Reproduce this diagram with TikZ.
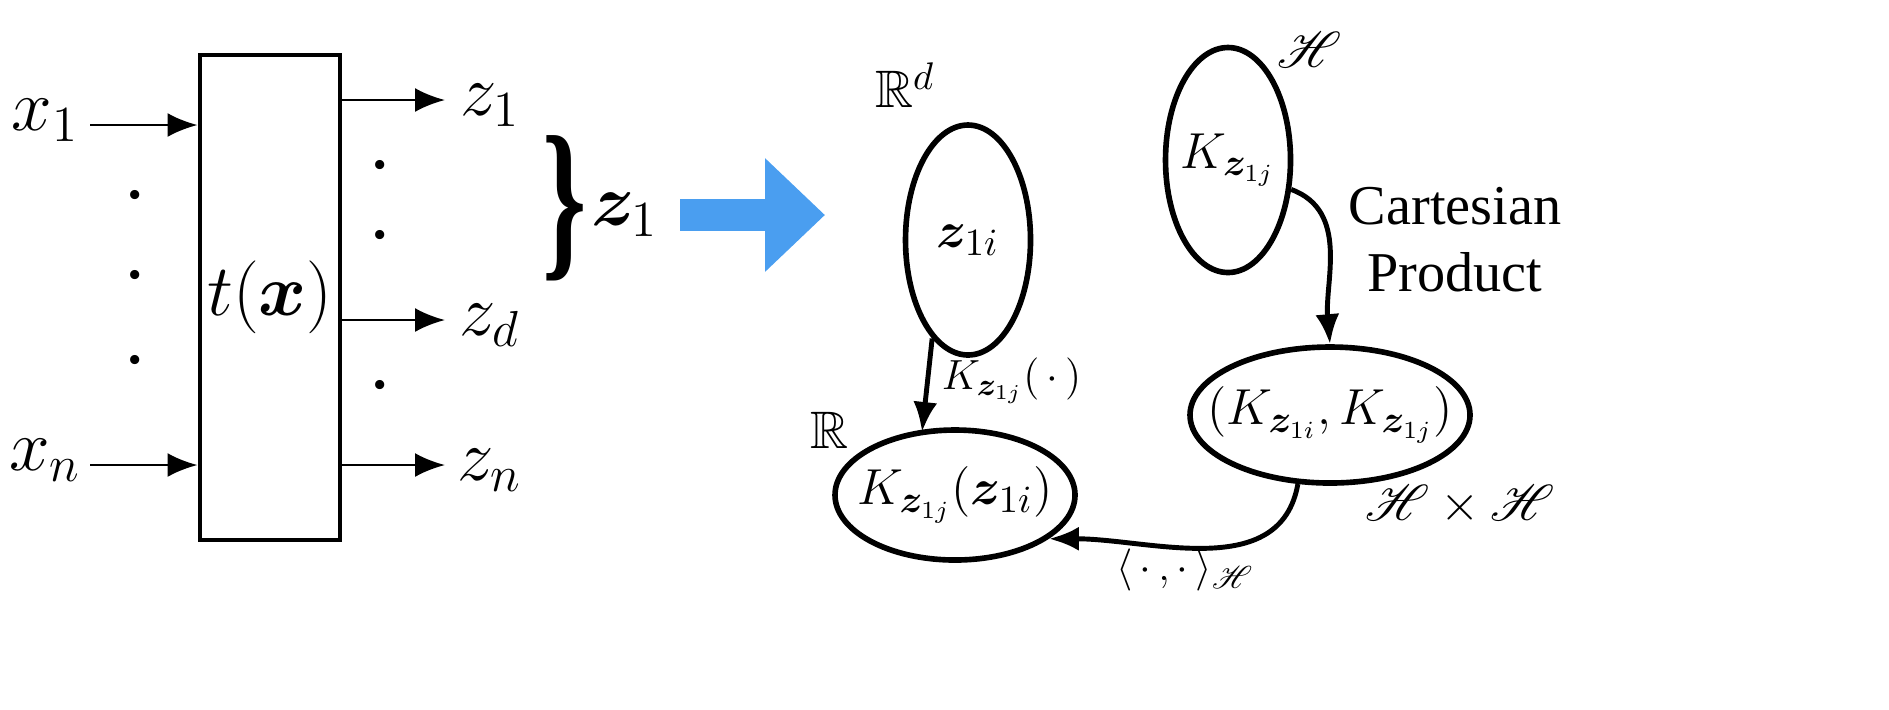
\documentclass[tikz,border=0pt]{standalone}
\usepackage{amsmath,amssymb,bm,mathrsfs}
\usepackage{fontspec}
\setmainfont{Liberation Serif}
\usetikzlibrary{arrows.meta}
\usetikzlibrary{shapes.geometric}
\tikzset{arrow/.style={thick,-{Latex[length=3mm,width=2.4mm]}},
  oval/.style={ellipse,draw,line width=1.6pt,inner sep=0pt},
  big/.style={font=\fontsize{21}{25}\selectfont},
  mid/.style={font=\fontsize{15}{18}\selectfont},
  dot/.style={font=\fontsize{22}{26}\selectfont}}
\begin{document}
\begin{tikzpicture}[x=1cm,y=-1cm]
    \useasboundingbox (0,0) rectangle (18.89,7.09);
    \node [draw,line width=1.4pt,minimum width=1.4cm,minimum height=4.85cm] (box) at (2.7,2.975) {};
    \node [big] at (box) {$t(\bm{x})$};

    \node [big] (x1) at (0.45,1.2) {$x_1$};
    \node [big] (xn) at (0.45,4.6) {$x_n$};
    \coordinate (x1e) at (0.9,1.25);
    \coordinate (xne) at (0.9,4.65);
    \draw [arrow] (x1e) -- (x1e -| box.west);
    \draw [arrow] (xne) -- (xne -| box.west);
    \foreach \y in {1.95,2.75,3.6}
        \node [dot] at (1.35,\y) {.};

    \node [big] (z1) at (4.9,1.05) {$z_1$};
    \node [big] (zd) at (4.9,3.25) {$z_d$};
    \node [big] (zn) at (4.9,4.7) {$z_n$};
    \foreach \n/\y in {z1/1.0,zd/3.2,zn/4.65}
        {
        \coordinate (\n s) at (3.4,\y);
        \draw [arrow] (\n s) -- ++(1.05,0);
        }
    \foreach \y in {1.65,2.35,3.85}
        \node [dot] at (3.8,\y) {.};

    \node [inner sep=0pt] (brace) at (5.65,2.08) {\scalebox{0.8}[1.25]{\fontsize{40}{40}\selectfont\bfseries\}}};
    \node [big] (zall) at (6.25,2.15) {$\bm{z}_1$};
    \coordinate (ba) at (6.8,2.15);
    \coordinate (bb) at (8.25,2.15);
    \draw [line width=9pt,color={rgb,255:red,74;green,158;blue,240},-{Triangle[length=6mm,width=11mm]}] (ba) -- (bb);

    \node [oval,minimum width=1.25cm,minimum height=2.3cm] (zi) at (9.68,2.4) {};
    \node [mid] at (zi) {$\bm{z}_{1i}$};
    \node [mid] at (9.05,0.85) {$\mathbb{R}^d$};

    \node [oval,minimum width=1.25cm,minimum height=2.25cm] (kj) at (12.28,1.6) {};
    \node [mid] at (kj) {$K_{\bm{z}_{1j}}$};
    \node [mid] at (13.1,0.5) {$\mathscr{H}$};

    \node [oval,minimum width=2.8cm,minimum height=1.36cm] (kk) at (13.3,4.15) {};
    \node [mid] at (kk) {$(K_{\bm{z}_{1i}},K_{\bm{z}_{1j}})$};
    \node [mid] at (14.6,5.05) {$\mathscr{H}\times\mathscr{H}$};

    \node [oval,minimum width=2.4cm,minimum height=1.3cm] (kz) at (9.55,4.95) {};
    \node [mid] at (kz) {$K_{\bm{z}_{1j}}(\bm{z}_{1i})$};
    \node [mid] at (8.3,4.3) {$\mathbb{R}$};

    \coordinate (kzt) at (9.22,4.32);
    \draw [arrow,line width=1.4pt] (zi.250) -- (kzt) node [pos=0.45,right,font=\fontsize{13}{16}\selectfont] {$K_{\bm{z}_{1j}}(\,\cdot\,)$};
    \draw [arrow,line width=1.4pt] (kj.-25) to [out=-20,in=95] (kk.north) ;
    \node [align=center,font=\fontsize{16}{19}\selectfont] at (14.55,2.4) {Cartesian\\Product};
    \draw [arrow,line width=1.4pt] (kk.-115) to [out=-100,in=0] (kz.-25);
    \node [font=\fontsize{13}{16}\selectfont] at (11.85,5.7) {$\langle\,\cdot\,,\cdot\,\rangle_{\mathscr{H}}$};
\end{tikzpicture}
\end{document}
